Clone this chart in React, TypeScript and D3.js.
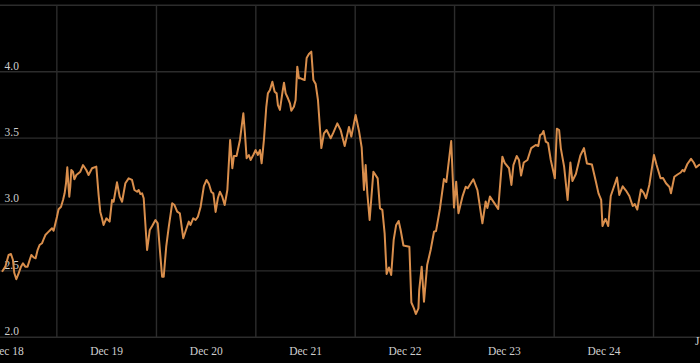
import React from 'react';
import * as d3 from 'd3';

const width = 700;
const height = 363;
const margin = { top: 5.3, bottom: 25.7, left: 7.3 };

// decimal years of each reading
const times = [
  2018.862, 2018.895, 2018.928, 2018.952, 2018.972, 2018.985, 2019.006, 2019.029, 2019.053, 2019.073,
  2019.096, 2019.119, 2019.140, 2019.157, 2019.180, 2019.200, 2019.220, 2019.240, 2019.264, 2019.280,
  2019.298, 2019.321, 2019.348, 2019.365, 2019.381, 2019.391, 2019.415, 2019.431, 2019.456, 2019.476,
  2019.492, 2019.506, 2019.519, 2019.529, 2019.539, 2019.549, 2019.559, 2019.576, 2019.590, 2019.610,
  2019.650, 2019.677, 2019.710, 2019.733, 2019.768, 2019.811, 2019.834, 2019.851, 2019.868, 2019.884,
  2019.912, 2019.945, 2019.969, 2019.985, 2020.019, 2020.046, 2020.070, 2020.103, 2020.136, 2020.170,
  2020.194, 2020.221, 2020.237, 2020.254, 2020.271, 2020.287, 2020.321, 2020.348, 2020.372, 2020.405,
  2020.428, 2020.455, 2020.472, 2020.488, 2020.513, 2020.539, 2020.573, 2020.596, 2020.623, 2020.650,
  2020.684, 2020.717, 2020.740, 2020.757, 2020.784, 2020.808, 2020.831, 2020.858, 2020.891, 2020.918,
  2020.942, 2020.966, 2020.986, 2021.009, 2021.032, 2021.052, 2021.076, 2021.100, 2021.127, 2021.155,
  2021.177, 2021.193, 2021.220, 2021.254, 2021.288, 2021.304, 2021.321, 2021.344, 2021.361, 2021.388,
  2021.412, 2021.435, 2021.455, 2021.472, 2021.495, 2021.519, 2021.535, 2021.556, 2021.580, 2021.603,
  2021.623, 2021.636, 2021.656, 2021.680, 2021.697, 2021.714, 2021.737, 2021.757, 2021.771, 2021.797,
  2021.814, 2021.831, 2021.848, 2021.865, 2021.885, 2021.905, 2021.925, 2021.948, 2021.972, 2021.993,
  2022.016, 2022.039, 2022.073, 2022.099, 2022.126, 2022.167, 2022.194, 2022.234, 2022.267, 2022.308,
  2022.351, 2022.375, 2022.418, 2022.452, 2022.479, 2022.502, 2022.519, 2022.536, 2022.559, 2022.597,
  2022.640, 2022.663, 2022.687, 2022.710, 2022.730, 2022.754, 2022.776, 2022.801, 2022.826, 2022.851,
  2022.871, 2022.899, 2022.959, 2022.979, 2023.005, 2023.024, 2023.050, 2023.058, 2023.083, 2023.106,
  2023.138, 2023.173, 2023.207, 2023.227, 2023.267, 2023.307, 2023.331, 2023.380, 2023.408, 2023.430,
  2023.453, 2023.493, 2023.526, 2023.546, 2023.603, 2023.644, 2023.694, 2023.727, 2023.744, 2023.770,
  2023.811, 2023.853, 2023.895, 2023.918, 2023.962, 2023.986, 2024.006, 2024.039, 2024.062, 2024.083,
  2024.110, 2024.147, 2024.185, 2024.230, 2024.256, 2024.274, 2024.294, 2024.308, 2024.331, 2024.354,
  2024.381, 2024.422, 2024.442, 2024.465, 2024.482, 2024.515, 2024.550, 2024.578, 2024.598, 2024.633,
  2024.678, 2024.714, 2024.744, 2024.794, 2024.834, 2024.860, 2024.887, 2024.900, 2024.930, 2024.958,
  2024.983, 2025.021, 2025.046, 2025.069, 2025.103, 2025.136, 2025.170, 2025.204, 2025.224, 2025.250,
  2025.287, 2025.315, 2025.338, 2025.371, 2025.418, 2025.443, 2025.484, 2025.509, 2025.539, 2025.574,
  2025.589, 2025.623, 2025.655, 2025.687, 2025.707, 2025.723, 2025.754, 2025.791, 2025.818, 2025.841,
  2025.874, 2025.891,
];

const values = [
  2.494, 2.532, 2.620, 2.627, 2.582, 2.486, 2.437, 2.482, 2.532, 2.557,
  2.532, 2.532, 2.582, 2.620, 2.602, 2.595, 2.657, 2.695, 2.708, 2.738,
  2.770, 2.788, 2.808, 2.821, 2.803, 2.833, 2.908, 2.964, 2.983, 3.034,
  3.084, 3.160, 3.280, 3.160, 3.059, 3.134, 3.260, 3.247, 3.190, 3.222,
  3.247, 3.297, 3.260, 3.222, 3.273, 3.285, 3.072, 2.944, 2.896, 2.846,
  2.896, 2.871, 3.034, 3.021, 3.167, 3.059, 3.021, 3.160, 3.197, 3.185,
  3.109, 3.096, 3.109, 3.079, 3.084, 3.047, 2.657, 2.808, 2.838, 2.883,
  2.858, 2.607, 2.456, 2.456, 2.682, 2.833, 3.009, 2.996, 2.946, 2.934,
  2.746, 2.821, 2.871, 2.846, 2.896, 2.883, 2.908, 2.981, 3.139, 3.185,
  3.154, 3.094, 3.084, 2.944, 3.049, 3.096, 3.059, 2.996, 3.109, 3.486,
  3.273, 3.365, 3.365, 3.486, 3.687, 3.536, 3.348, 3.373, 3.335, 3.373,
  3.410, 3.373, 3.410, 3.310, 3.486, 3.736, 3.837, 3.862, 3.925, 3.849,
  3.837, 3.749, 3.712, 3.837, 3.917, 3.837, 3.800, 3.762, 3.706, 3.736,
  3.787, 4.038, 3.950, 3.950, 3.943, 3.937, 4.103, 4.133, 4.151, 3.937,
  3.907, 3.787, 3.425, 3.536, 3.561, 3.499, 3.541, 3.611, 3.561, 3.441,
  3.584, 3.511, 3.674, 3.554, 3.429, 3.109, 3.297, 3.084, 2.883, 3.247,
  3.197, 2.971, 2.959, 2.783, 2.477, 2.526, 2.469, 2.733, 2.846, 2.876,
  2.808, 2.691, 2.682, 2.262, 2.218, 2.175, 2.218, 2.356, 2.532, 2.268,
  2.544, 2.657, 2.795, 2.800, 2.970, 3.192, 3.169, 3.478, 2.977, 3.172,
  2.934, 3.059, 3.134, 3.122, 3.190, 3.109, 2.858, 3.023, 2.974, 3.060,
  3.014, 2.966, 3.360, 3.313, 3.273, 3.147, 3.297, 3.365, 3.335, 3.218,
  3.316, 3.335, 3.425, 3.448, 3.441, 3.523, 3.531, 3.554, 3.473, 3.463,
  3.335, 3.197, 3.571, 3.561, 3.423, 3.285, 3.034, 3.316, 3.177, 3.230,
  3.369, 3.425, 3.309, 3.301, 3.172, 3.084, 3.034, 2.838, 2.891, 2.838,
  3.064, 3.147, 3.203, 3.072, 3.137, 3.105, 3.064, 2.989, 3.004, 2.962,
  3.113, 3.087, 3.047, 3.147, 3.373, 3.301, 3.197, 3.200, 3.160, 3.132,
  3.084, 3.209, 3.226, 3.241, 3.260, 3.249, 3.305, 3.344, 3.316, 3.279,
  3.300, 3.297,
];

const yTicks = [2.0, 2.5, 3.0, 3.5, 4.0, 4.5];
const xTickDates = ['2018-12-01', '2019-12-01', '2020-12-01', '2021-12-01', '2022-12-01', '2023-12-01', '2024-12-01'];
const xTickLabels = ['Dec 18', 'Dec 19', 'Dec 20', 'Dec 21', 'Dec 22', 'Dec 23', 'Dec 24'];
const gridDates = ['2019-06-01', '2020-06-01', '2021-06-01', '2022-06-01', '2023-06-01', '2024-06-01', '2025-06-01'];
const edgeLabel = 'J';

const parse = d3.utcParse('%Y-%m-%d');

function fromDecimalYear(t: number): Date {
  const yr = Math.floor(t);
  const start = Date.UTC(yr, 0, 1);
  const end = Date.UTC(yr + 1, 0, 1);
  return new Date(start + (t - yr) * (end - start));
}

const x = d3.scaleUtc()
  .domain([parse('2018-12-01') as Date, parse('2024-12-01') as Date])
  .range([margin.left, margin.left + 6 * 99.45]);

const y = d3.scaleLinear()
  .domain([2, 4.5])
  .range([height - margin.bottom, margin.top]);

const font = '"Liberation Serif", "Times New Roman", serif';

export default function App() {
  const line = d3.line<number>()
    .x((_, i) => x(fromDecimalYear(times[i])))
    .y(d => y(d));

  return (
    <div style={{ position: 'fixed', left: 0, top: 0, width, height, background: '#000' }}>
      <svg width={width} height={height} style={{ display: 'block' }}>
        <rect width={width} height={height} fill="#000" />
        {yTicks.map(t => (
          <line key={`h${t}`} x1={0} x2={width} y1={y(t)} y2={y(t)} stroke="#2c2c2c" strokeWidth={1.4} />
        ))}
        {gridDates.map(d => {
          const gx = x(parse(d) as Date);
          return (
            <line key={`v${d}`} x1={gx} x2={gx} y1={y(4.5)} y2={y(2)} stroke="#2c2c2c" strokeWidth={1.4} />
          );
        })}
        {yTicks.filter(t => t < 4.5).map(t => (
          <text key={`yl${t}`} x={4.5} y={y(t) - 2.2} fill="#cfcfcf" fontSize={11.5} fontFamily={font}>
            {t.toFixed(1)}
          </text>
        ))}
        {xTickDates.map((d, i) => (
          <text key={`xl${d}`} x={x(parse(d) as Date)} y={355} textAnchor="middle" fill="#cfcfcf" fontSize={11.5} fontFamily={font}>
            {xTickLabels[i]}
          </text>
        ))}
        <text x={695} y={344.5} fill="#cfcfcf" fontSize={11.5} fontFamily={font}>{edgeLabel}</text>
        <path d={line(values) || ''} fill="none" stroke="#d98e4c" strokeWidth={2} strokeLinejoin="round" />
      </svg>
    </div>
  );
}
